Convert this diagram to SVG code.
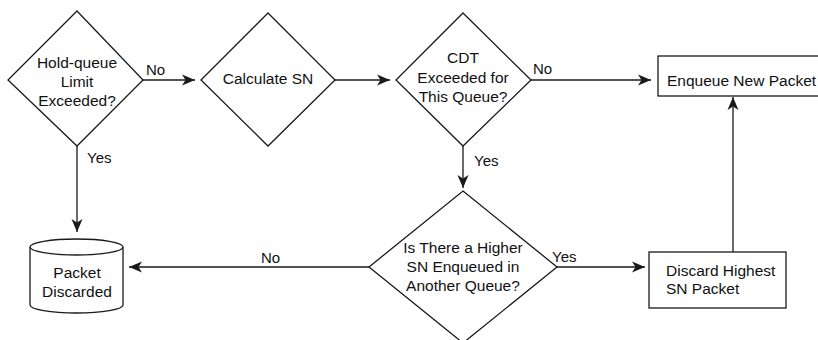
<svg xmlns="http://www.w3.org/2000/svg" width="818" height="340" viewBox="0 0 818 340">
  <style>
    .shape { fill: #fff; stroke: #1a1a1a; stroke-width: 1.3; }
    .edge { fill: none; stroke: #1a1a1a; stroke-width: 1.3; }
    text { font-family: "Liberation Sans", Arial, sans-serif; font-size: 15.5px; fill: #111; }
    .c { text-anchor: middle; }
    .lbl { font-size: 15px; }
  </style>
  <defs>
    <marker id="arrow" markerUnits="userSpaceOnUse" markerWidth="14" markerHeight="12" viewBox="0 0 14 12" refX="13" refY="6" orient="auto">
      <path d="M0,0.5 L13,6 L0,11.5 L3.5,6 z" fill="#1a1a1a"/>
    </marker>
  </defs>

  <rect width="818" height="340" fill="#fff"/>

  <g id="connectors">
    <line class="edge" x1="143" y1="80" x2="195" y2="80" marker-end="url(#arrow)"/>
    <line class="edge" x1="335" y1="80" x2="390" y2="80" marker-end="url(#arrow)"/>
    <line class="edge" x1="531" y1="80" x2="651" y2="80" marker-end="url(#arrow)"/>
    <line class="edge" x1="77" y1="146" x2="77" y2="232" marker-end="url(#arrow)"/>
    <line class="edge" x1="463" y1="146" x2="463" y2="188" marker-end="url(#arrow)"/>
    <line class="edge" x1="369" y1="267" x2="129" y2="267" marker-end="url(#arrow)"/>
    <line class="edge" x1="557" y1="267" x2="645" y2="267" marker-end="url(#arrow)"/>
    <line class="edge" x1="733" y1="252" x2="733" y2="97" marker-end="url(#arrow)"/>
    <text class="lbl" x="146" y="75">No</text>
    <text class="lbl" x="87" y="163">Yes</text>
    <text class="lbl" x="533" y="74">No</text>
    <text class="lbl" x="474" y="166">Yes</text>
    <text class="lbl" x="261" y="263">No</text>
    <text class="lbl" x="552" y="262">Yes</text>
  </g>

  <g id="hold-queue-check">
    <polygon class="shape" points="77,11 143,80 77,146 8,80"/>
    <text class="c" x="77" y="68">Hold-queue</text>
    <text class="c" x="77" y="87">Limit</text>
    <text class="c" x="77" y="106">Exceeded?</text>
  </g>

  <g id="calculate-sn">
    <polygon class="shape" points="268,13 335,80 268,146 201,80"/>
    <text class="c" x="268" y="84">Calculate SN</text>
  </g>

  <g id="cdt-check">
    <polygon class="shape" points="463,13 531,80 463,146 396,80"/>
    <text class="c" x="463" y="63">CDT</text>
    <text class="c" x="463" y="83">Exceeded for</text>
    <text class="c" x="463" y="102">This Queue?</text>
  </g>

  <g id="enqueue-packet">
    <rect class="shape" x="658" y="56" width="170" height="40"/>
    <text x="667" y="86">Enqueue New Packet</text>
  </g>

  <g id="higher-sn-check">
    <polygon class="shape" points="463,191 557,267 463,343 369,267"/>
    <text class="c" x="463" y="253">Is There a Higher</text>
    <text class="c" x="463" y="272">SN Enqueued in</text>
    <text class="c" x="463" y="291">Another Queue?</text>
  </g>

  <g id="discard-highest">
    <rect class="shape" x="649" y="252" width="137" height="56"/>
    <text x="666" y="276">Discard Highest</text>
    <text x="666" y="294">SN Packet</text>
  </g>

  <g id="packet-discarded">
    <path class="shape" d="M30,247 V305 A46.5,8 0 0 0 123,305 V247"/>
    <ellipse class="shape" cx="76.5" cy="247" rx="46.5" ry="8"/>
    <text class="c" x="77" y="278">Packet</text>
    <text class="c" x="77" y="297">Discarded</text>
  </g>
</svg>
